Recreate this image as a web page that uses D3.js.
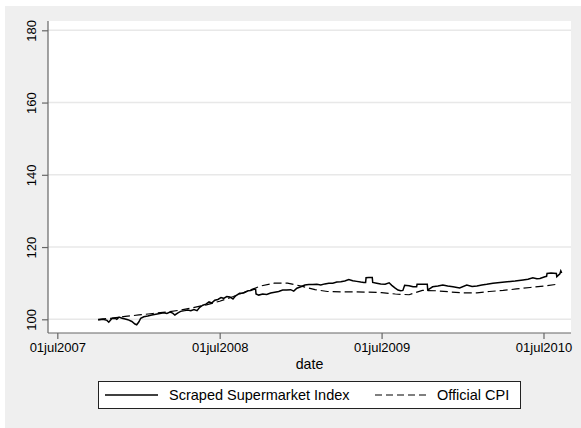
<!DOCTYPE html>
<html>
<head>
<meta charset="utf-8">
<script src="https://cdn.jsdelivr.net/npm/d3@7"></script>
<style>
  html, body { margin: 0; padding: 0; background: #ffffff; }
  svg { display: block; font-family: "Liberation Sans", Arial, sans-serif; }
</style>
</head>
<body>
<svg id="chart" width="581" height="428"></svg>
<script>
// Scraped supermarket index (irregular observation dates)
const scrapedDates = [
  "2007-10-01","2007-10-12","2007-10-21","2007-10-25","2007-11-01","2007-11-08","2007-11-12","2007-11-17",
  "2007-11-24","2007-12-01","2007-12-07","2007-12-16","2007-12-23","2007-12-27","2008-01-01","2008-01-05",
  "2008-01-12","2008-01-21","2008-01-30","2008-02-08","2008-02-17","2008-02-26","2008-03-04","2008-03-11",
  "2008-03-17","2008-03-22","2008-03-29","2008-04-04","2008-04-13","2008-04-20","2008-04-27","2008-05-04",
  "2008-05-11","2008-05-17","2008-05-24","2008-05-31","2008-06-07","2008-06-13","2008-06-20","2008-06-27",
  "2008-07-04","2008-07-10","2008-07-17","2008-07-24","2008-07-31","2008-08-06","2008-08-15","2008-08-24",
  "2008-09-03","2008-09-09","2008-09-16","2008-09-20","2008-09-21","2008-09-27","2008-10-06","2008-10-15",
  "2008-10-24","2008-11-02","2008-11-11","2008-11-20","2008-11-29","2008-12-08","2008-12-15","2008-12-22",
  "2008-12-31","2009-01-09","2009-01-18","2009-01-27","2009-02-05","2009-02-14","2009-02-23","2009-03-04",
  "2009-03-13","2009-03-22","2009-03-31","2009-04-09","2009-04-18","2009-04-27","2009-05-06","2009-05-15",
  "2009-05-22","2009-05-26","2009-05-27","2009-06-02","2009-06-10","2009-06-11","2009-06-20","2009-06-29",
  "2009-07-09","2009-07-18","2009-07-24","2009-07-31","2009-08-07","2009-08-13","2009-08-18","2009-08-22",
  "2009-09-01","2009-09-10","2009-09-18","2009-09-19","2009-09-30","2009-10-12","2009-10-13","2009-10-24",
  "2009-11-05","2009-11-16","2009-11-27","2009-12-09","2009-12-24","2010-01-09","2010-01-21","2010-02-01",
  "2010-02-12","2010-02-23","2010-03-09","2010-03-25","2010-04-10","2010-04-28","2010-05-16","2010-05-27",
  "2010-06-07","2010-06-16","2010-06-23","2010-07-04","2010-07-08","2010-07-09","2010-07-18","2010-07-30",
  "2010-07-31","2010-08-07","2010-08-09","2010-08-11"
];
const scrapedValues = [
  99.8,100.0,99.7,99.2,100.2,100.3,100.0,100.6,
  100.3,100.1,99.9,99.4,98.7,98.5,99.3,100.3,
  100.7,100.9,101.2,101.4,101.6,101.8,101.6,102.0,
  101.7,101.2,101.8,102.2,102.4,102.6,102.4,102.7,
  102.4,103.3,103.9,104.2,104.8,104.5,105.3,105.5,
  106.0,105.8,106.3,106.2,105.6,106.5,107.2,107.3,
  107.9,108.0,108.3,108.3,107.0,106.7,107.0,106.9,
  107.3,107.5,107.7,108.1,108.1,108.2,107.8,108.6,
  109.0,109.5,109.6,109.6,109.7,109.5,109.8,110.0,
  110.0,110.3,110.4,110.6,111.0,110.7,110.5,110.3,
  110.2,110.2,111.5,111.6,111.6,110.2,110.0,109.8,
  109.7,110.1,109.4,108.7,108.1,107.9,108.0,109.4,
  109.3,109.0,109.0,109.7,109.7,109.7,108.1,109.0,
  109.2,109.5,109.2,109.0,108.7,109.5,109.1,109.2,
  109.5,109.7,110.0,110.2,110.4,110.6,110.9,111.1,
  111.5,111.2,111.3,111.8,111.9,112.7,112.8,112.7,
  111.8,112.6,113.4,112.8
];

// Official CPI, monthly
const cpiDates = [
  "2007-10-01","2007-11-01","2007-12-01","2008-01-01","2008-02-01","2008-03-01","2008-04-01","2008-05-01",
  "2008-06-01","2008-07-01","2008-08-01","2008-09-01","2008-10-01","2008-11-01","2008-12-01","2009-01-01",
  "2009-02-01","2009-03-01","2009-04-01","2009-05-01","2009-06-01","2009-07-01","2009-08-01","2009-09-01",
  "2009-10-01","2009-11-01","2009-12-01","2010-01-01","2010-02-01","2010-03-01","2010-04-01","2010-05-01",
  "2010-06-01","2010-07-01","2010-08-01"
];
const cpiValues = [
  100.0,100.3,100.8,101.2,101.6,102.0,102.5,103.2,
  104.0,105.0,106.3,107.8,109.2,110.0,110.0,109.2,
  108.2,107.7,107.6,107.6,107.5,107.4,107.0,106.8,
  108.0,107.9,107.6,107.3,107.3,107.7,108.0,108.4,
  108.8,109.2,109.7
];

const xTickDates = ["2007-07-01","2008-07-01","2009-07-01","2010-07-01"];
const yTickValues = [100, 120, 140, 160, 180];
const seriesNames = ["Scraped Supermarket Index", "Official CPI"];

const parse = d3.timeParse("%Y-%m-%d");
const fmt = d3.timeFormat("%d%b%Y");

const scraped = scrapedDates.map((d, i) => ({ date: parse(d), value: scrapedValues[i] }));
const cpi = cpiDates.map((d, i) => ({ date: parse(d), value: cpiValues[i] }));

const svg = d3.select("#chart");

// outer graph region
svg.append("rect").attr("x", 5).attr("y", 6).attr("width", 576).attr("height", 422).attr("fill", "#efefef");

const plot = { left: 48, right: 571, top: 21, bottom: 333 };

svg.append("rect")
  .attr("x", plot.left).attr("y", plot.top)
  .attr("width", plot.right - plot.left).attr("height", plot.bottom - plot.top)
  .attr("fill", "#ffffff");

const x = d3.scaleTime()
  .domain([parse("2007-06-10"), parse("2010-09-01")])
  .range([plot.left, plot.right]);

const y = d3.scaleLinear()
  .domain([100, 180])
  .range([319.3, 30.3]);

// horizontal grid
svg.append("g")
  .selectAll("line")
  .data(yTickValues)
  .join("line")
  .attr("x1", plot.left).attr("x2", plot.right)
  .attr("y1", d => y(d)).attr("y2", d => y(d))
  .attr("stroke", "#e8e8e8").attr("stroke-width", 1.5);

// y axis
const yAxis = svg.append("g")
  .attr("transform", `translate(${plot.left},0)`)
  .call(d3.axisLeft(y).tickValues(yTickValues).tickSize(6).tickPadding(5));
yAxis.select(".domain").attr("d", `M0,${plot.top}V${plot.bottom}`);
yAxis.selectAll(".domain, .tick line").attr("stroke", "#666").attr("stroke-width", 1.2);
yAxis.selectAll(".tick text")
  .attr("transform", "rotate(-90)")
  .attr("x", 0).attr("y", -12.5)
  .attr("dy", 0)
  .attr("text-anchor", "middle")
  .attr("fill", "#000")
  .style("font-size", "13px")
  .style("font-family", "'Liberation Sans', Arial, sans-serif");

// x axis
const xAxis = svg.append("g")
  .attr("transform", `translate(0,${plot.bottom})`)
  .call(d3.axisBottom(x).tickValues(xTickDates.map(parse)).tickSize(6).tickPadding(4)
    .tickFormat(d => fmt(d).toLowerCase()));
xAxis.select(".domain").attr("d", `M${plot.left},0H${plot.right}`);
xAxis.selectAll(".domain, .tick line").attr("stroke", "#666").attr("stroke-width", 1.2);
xAxis.selectAll(".tick text")
  .attr("fill", "#000")
  .style("font-size", "13px")
  .style("font-family", "'Liberation Sans', Arial, sans-serif");

// axis title
svg.append("text")
  .attr("x", (plot.left + plot.right) / 2).attr("y", 368.5)
  .attr("text-anchor", "middle")
  .style("font-size", "14.2px")
  .text("date");

const line = d3.line().x(d => x(d.date)).y(d => y(d.value));

svg.append("path").datum(cpi)
  .attr("d", line).attr("fill", "none")
  .attr("stroke", "#000").attr("stroke-width", 1.2)
  .attr("stroke-dasharray", "8,4");

svg.append("path").datum(scraped)
  .attr("d", line).attr("fill", "none")
  .attr("stroke", "#000").attr("stroke-width", 1.5)
  .attr("stroke-linejoin", "miter");

// legend
const legend = svg.append("g");
legend.append("rect")
  .attr("x", 98.5).attr("y", 381.5).attr("width", 422).attr("height", 27)
  .attr("fill", "#fff").attr("stroke", "#222").attr("stroke-width", 1);

const legendItems = [
  { name: seriesNames[0], x0: 105, x1: 158, tx: 169, dash: null },
  { name: seriesNames[1], x0: 375, x1: 428, tx: 437, dash: "7,4" }
];
legendItems.forEach(it => {
  legend.append("line")
    .attr("x1", it.x0).attr("x2", it.x1).attr("y1", 395).attr("y2", 395)
    .attr("stroke", "#000").attr("stroke-width", it.dash ? 1.1 : 1.3)
    .attr("stroke-dasharray", it.dash);
  legend.append("text")
    .attr("x", it.tx).attr("y", 400.2)
    .style("font-size", "14.5px")
    .text(it.name);
});
</script>
</body>
</html>
